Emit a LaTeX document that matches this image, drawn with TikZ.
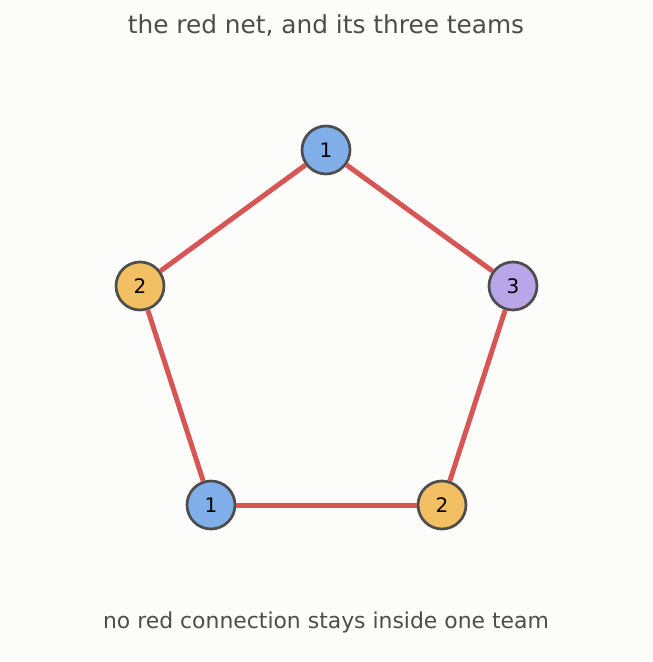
\documentclass[tikz,border=0pt]{standalone}
\usepackage{fontspec}
\setmainfont{DejaVu Sans}
\begin{document}
\definecolor{bg}{HTML}{FCFCFA}
\definecolor{nb}{HTML}{7FAEE8}
\definecolor{no}{HTML}{F2BF62}
\definecolor{np}{HTML}{B9A6E8}
\definecolor{rl}{HTML}{D65555}
\definecolor{dk}{HTML}{4D4D4D}
\begin{tikzpicture}[x=1pt,y=-1pt,
  v/.style={circle,draw=dk,line width=2.7pt,minimum size=48pt,inner sep=0pt,font=\fontsize{20}{24}\selectfont},
  e/.style={rl,line width=5pt}]
\fill[bg] (0,0) rectangle (653,662);
\useasboundingbox (0,0) rectangle (653,662);
\node[text=dk,font=\fontsize{24.8}{28}\selectfont] (t) at (326,26) {the red net, and its three teams};
\node[text=dk,font=\fontsize{21.9}{26}\selectfont] (b) at (326,622) {no red connection stays inside one team};
\node[v,fill=nb] (a) at (326,150) {1};
\node[v,fill=no] (c) at (140,286) {2};
\node[v,fill=np] (d) at (513,286) {3};
\node[v,fill=nb] (f) at (211,505) {1};
\node[v,fill=no] (g) at (442,505) {2};
\draw[e] (a) -- (c); \draw[e] (a) -- (d); \draw[e] (c) -- (f);
\draw[e] (f) -- (g); \draw[e] (d) -- (g);
\end{tikzpicture}
\end{document}
